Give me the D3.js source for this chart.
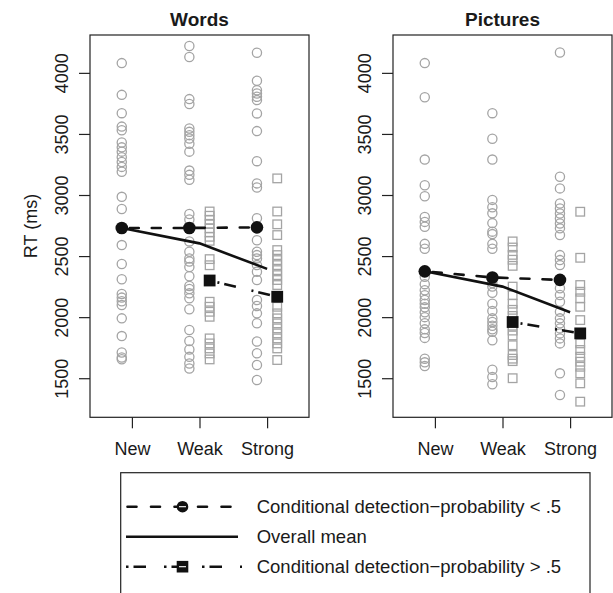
<!DOCTYPE html>
<html><head><meta charset="utf-8">
<script src="https://cdn.jsdelivr.net/npm/d3@7"></script>
<style>
html,body{margin:0;padding:0;background:#fff;}
svg{display:block;font-family:"Liberation Sans",Arial,Helvetica,sans-serif;}
</style></head>
<body>
<svg id="chart" width="613" height="593"></svg>
<script>
// ---------------- DATA ----------------
const categories = ["New", "Weak", "Strong"];
const panelTitles = ["Words", "Pictures"];
const yTicks = [1500, 2000, 2500, 3000, 3500, 4000];
const yDomain = [1180, 4310];
const xDomain = [0.38, 3.62];

// Words: individual RTs (circles = cond. prob < .5, squares = cond. prob > .5)
const wordsNewCircles = [4080, 3820, 3670, 3560, 3530, 3430, 3390, 3355, 3310, 3270, 3230, 3190, 2985, 2885, 2590, 2435, 2310, 2190, 2160, 2130, 2100, 1990, 1845, 1710, 1670, 1655];
const wordsWeakCircles = [4220, 4130, 3785, 3745, 3545, 3517, 3490, 3463, 3420, 3355, 3200, 3165, 3125, 2845, 2800, 2620, 2535, 2480, 2455, 2410, 2335, 2255, 2230, 2195, 2155, 2065, 1895, 1805, 1735, 1675, 1620, 1580];
const wordsWeakSquares = [2865, 2830, 2797, 2764, 2727, 2694, 2658, 2625, 2475, 2425, 2126, 2085, 2044, 2003, 1826, 1785, 1744, 1703, 1654];
const wordsStrongCircles = [4165, 3935, 3858, 3831, 3804, 3777, 3668, 3523, 3277, 3095, 3062, 2810, 2630, 2535, 2508, 2481, 2426, 2372, 2304, 2140, 2091, 2031, 1950, 1800, 1704, 1608, 1485];
const wordsStrongSquares = [3136, 2865, 2760, 2672, 2549, 2508, 2467, 2426, 2385, 2344, 2304, 2263, 2085, 2031, 1990, 1949, 1908, 1867, 1826, 1785, 1744, 1649];
const wordsLowMeans = [2730, 2730, 2735];     // New, Weak, Strong
const wordsHighMeans = [null, 2300, 2167];
const wordsOverallMeans = [2730, 2604, 2395];

// Pictures
const picsNewCircles = [4080, 3800, 3290, 3080, 2990, 2820, 2780, 2740, 2600, 2560, 2330, 2270, 2220, 2180, 2140, 2110, 2080, 2040, 2000, 1950, 1900, 1870, 1830, 1660, 1630, 1600];
const picsWeakCircles = [3670, 3460, 3290, 2960, 2900, 2850, 2770, 2700, 2680, 2600, 2560, 2280, 2250, 2200, 2110, 2050, 1990, 1960, 1930, 1900, 1880, 1810, 1570, 1510, 1450];
const picsWeakSquares = [2620, 2570, 2510, 2470, 2420, 2250, 2180, 2110, 2060, 2010, 1930, 1890, 1850, 1770, 1690, 1660, 1640, 1500];
const picsStrongCircles = [4167, 3149, 3054, 2931, 2890, 2849, 2808, 2767, 2727, 2672, 2508, 2467, 2426, 2236, 2181, 2126, 2044, 1990, 1949, 1908, 1867, 1826, 1785, 1540, 1362];
const picsStrongSquares = [2863, 2486, 2263, 2208, 2154, 2085, 1976, 1785, 1731, 1676, 1635, 1594, 1540, 1458, 1308];
const picsLowMeans = [2375, 2325, 2305];
const picsHighMeans = [null, 1960, 1867];
const picsOverallMeans = [2375, 2250, 2040];

const legendLabels = ["Conditional detection\u2212probability < .5", "Overall mean", "Conditional detection\u2212probability > .5"];

// ---------------- DRAWING ----------------
const svg = d3.select("#chart");
svg.append("rect").attr("width", 613).attr("height", 593).attr("fill", "#fff");

const TXT = "#1a1a1a", GRAY = "#a4a4a4";
const plotTop = 35, plotBottom = 417.3, pw = 219;
const off = 0.15;
const y = d3.scaleLinear().domain(yDomain).range([plotBottom, plotTop]);

const panels = [
  {left: 90, title: panelTitles[0],
   circles: [wordsNewCircles, wordsWeakCircles, wordsStrongCircles],
   squares: [null, wordsWeakSquares, wordsStrongSquares],
   low: wordsLowMeans, high: wordsHighMeans, overall: wordsOverallMeans},
  {left: 393, title: panelTitles[1],
   circles: [picsNewCircles, picsWeakCircles, picsStrongCircles],
   squares: [null, picsWeakSquares, picsStrongSquares],
   low: picsLowMeans, high: picsHighMeans, overall: picsOverallMeans}
];

const DASH = "9,13", DASHDOT = "2,5,12,16";

panels.forEach((p, pi) => {
  const x = d3.scaleLinear().domain(xDomain).range([p.left, p.left + pw]);
  const g = svg.append("g");

  // title
  g.append("text").attr("x", x(2)).attr("y", 26).attr("text-anchor", "middle")
    .attr("font-size", 19).attr("font-weight", "bold").attr("fill", TXT).text(p.title);

  // points
  p.circles.forEach((arr, ci) => {
    if (!arr) return;
    g.selectAll(null).data(arr).enter().append("circle")
      .attr("cx", x(ci + 1 - off)).attr("cy", d => y(d)).attr("r", 4.6)
      .attr("fill", "none").attr("stroke", GRAY).attr("stroke-width", 1.3);
  });
  p.squares.forEach((arr, ci) => {
    if (!arr) return;
    const s = 8.6;
    g.selectAll(null).data(arr).enter().append("rect")
      .attr("x", x(ci + 1 + off) - s / 2).attr("y", d => y(d) - s / 2)
      .attr("width", s).attr("height", s)
      .attr("fill", "none").attr("stroke", GRAY).attr("stroke-width", 1.3);
  });

  // lines
  const lowPts = p.low.map((v, i) => [x(i + 1 - off), y(v)]);
  const highPts = p.high.map((v, i) => v == null ? null : [x(i + 1 + off), y(v)]).filter(d => d);
  const overallPts = p.overall.map((v, i) => [x(i === 0 ? i + 1 - off : i + 1), y(v)]);
  const line = d3.line();
  g.append("path").attr("d", line(overallPts)).attr("fill", "none")
    .attr("stroke", "#111").attr("stroke-width", 2.6);
  g.append("path").attr("d", line(lowPts)).attr("fill", "none")
    .attr("stroke", "#111").attr("stroke-width", 2.6).attr("stroke-dasharray", DASH)
    .attr("stroke-linecap", "round").attr("stroke-dashoffset", -8);
  g.append("path").attr("d", line(highPts)).attr("fill", "none")
    .attr("stroke", "#111").attr("stroke-width", 2.6).attr("stroke-dasharray", DASHDOT)
    .attr("stroke-dashoffset", -8);

  // mean markers
  g.selectAll(null).data(lowPts).enter().append("circle")
    .attr("cx", d => d[0]).attr("cy", d => d[1]).attr("r", 6.3).attr("fill", "#111");
  const ms = 11.8;
  g.selectAll(null).data(highPts).enter().append("rect")
    .attr("x", d => d[0] - ms / 2).attr("y", d => d[1] - ms / 2)
    .attr("width", ms).attr("height", ms).attr("fill", "#111");

  // box
  g.append("rect").attr("x", p.left).attr("y", plotTop).attr("width", pw).attr("height", plotBottom - plotTop)
    .attr("fill", "none").attr("stroke", "#222").attr("stroke-width", 1.2);

  // y axis
  const ya = g.append("g").attr("transform", `translate(${p.left},0)`)
    .call(d3.axisLeft(y).tickValues(yTicks).tickSize(11).tickFormat(d3.format("d")));
  ya.select(".domain").remove();
  ya.selectAll(".tick line").attr("stroke", "#222").attr("stroke-width", 1.2);
  ya.selectAll(".tick text").attr("x", 0).attr("y", -22).attr("dy", 0)
    .attr("transform", "rotate(-90)").attr("text-anchor", "middle")
    .attr("font-size", 18).attr("fill", TXT).attr("font-family", null);

  // x axis
  const xa = g.append("g").attr("transform", `translate(0,${plotBottom})`)
    .call(d3.axisBottom(x).tickValues([1, 2, 3]).tickSize(11).tickFormat(d => categories[d - 1]));
  xa.select(".domain").remove();
  xa.selectAll(".tick line").attr("stroke", "#222").attr("stroke-width", 1.2);
  xa.selectAll(".tick text").attr("y", 37.5).attr("dy", 0)
    .attr("font-size", 18).attr("fill", TXT).attr("font-family", null);
});

// y label
svg.append("text").attr("transform", "translate(37,226) rotate(-90)").attr("text-anchor", "middle")
  .attr("font-size", 18).attr("fill", TXT).text("RT (ms)");

// legend
const lg = svg.append("g");
lg.append("rect").attr("x", 120.7).attr("y", 472.7).attr("width", 469.3).attr("height", 150)
  .attr("fill", "none").attr("stroke", "#222").attr("stroke-width", 1.2);
const rowsY = [506.7, 536.7, 566.7];
const lx0 = 126, lx1 = 238, lmx = 182.5;
// row 1: dashed + circle
lg.append("line").attr("x1", lx0 + 1.5).attr("x2", lx1).attr("y1", rowsY[0]).attr("y2", rowsY[0])
  .attr("stroke", "#111").attr("stroke-width", 2.6).attr("stroke-dasharray", "9,14.5").attr("stroke-linecap", "round");
lg.append("circle").attr("cx", lmx).attr("cy", rowsY[0]).attr("r", 5.8).attr("fill", "#111");
lg.append("line").attr("x1", lmx - 3.5).attr("x2", lmx + 3.5).attr("y1", rowsY[0]).attr("y2", rowsY[0])
  .attr("stroke", "#fff").attr("stroke-width", 1.1);
// row 2: solid
lg.append("line").attr("x1", lx0).attr("x2", lx1).attr("y1", rowsY[1]).attr("y2", rowsY[1])
  .attr("stroke", "#111").attr("stroke-width", 2.6);
// row 3: dash-dot + square
lg.append("line").attr("x1", lx0).attr("x2", lx1 + 4).attr("y1", rowsY[2]).attr("y2", rowsY[2])
  .attr("stroke", "#111").attr("stroke-width", 2.6).attr("stroke-dasharray", "2.5,5,12.5,18");
lg.append("rect").attr("x", lmx - 5.8).attr("y", rowsY[2] - 5.8).attr("width", 11.6).attr("height", 11.6).attr("fill", "#111");
lg.append("line").attr("x1", lmx - 3.5).attr("x2", lmx + 3.5).attr("y1", rowsY[2]).attr("y2", rowsY[2])
  .attr("stroke", "#fff").attr("stroke-width", 1.1);

lg.selectAll(null).data(legendLabels).enter().append("text")
  .attr("x", 256.7).attr("y", (d, i) => rowsY[i]).attr("dy", "0.36em")
  .attr("font-size", 18.5).attr("fill", TXT).text(d => d);
</script>
</body></html>
